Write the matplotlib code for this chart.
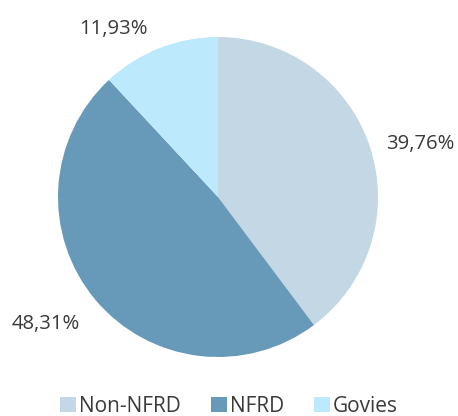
import matplotlib
matplotlib.use('Agg')
import numpy as np
from matplotlib import pyplot as plt
from matplotlib.patches import Patch

labels = ['Non-NFRD', 'NFRD', 'Govies']
shares = [39.76, 48.31, 11.93]
colors = ['#c3d7e4', '#6799b9', '#bde9fd']
# label placement: distance from centre (in radii) and angular nudge (deg)
label_dist = [1.31, 1.33, 1.25]
label_nudge = [-3, -4, 10]

plt.rcParams['font.family'] = ['Open Sans', 'DejaVu Sans']

fig = plt.figure(figsize=(4.58, 4.16), dpi=100)
# pie centred near (218, 197) px with radius ~160 px
ax = fig.add_axes([58/458, 59/416, 320/458, 320/416])
wedges, _ = ax.pie(shares, colors=colors, startangle=90, counterclock=False, radius=1)

for w, v, d, n in zip(wedges, shares, label_dist, label_nudge):
    mid = np.deg2rad((w.theta1 + w.theta2) / 2 + n)
    ax.text(d*np.cos(mid), d*np.sin(mid), f"{v:.2f}%".replace('.', ','),
            ha='center', va='center_baseline', fontsize=14.6, color='#3a3a3a')

ax.set_xlim(-1, 1)
ax.set_ylim(-1, 1)
ax.set_aspect('equal')

handles = [Patch(facecolor=c, label=l) for c, l in zip(colors, labels)]
fig.legend(handles=handles, loc='center', bbox_to_anchor=(0.5, 0.024), ncol=3,
           frameon=False, fontsize=15, handlelength=0.75, handleheight=0.75,
           handletextpad=0.15, columnspacing=1.45, labelcolor='#3a3a3a',
           borderaxespad=0, borderpad=0)

fig.savefig('out.png', dpi=100)
